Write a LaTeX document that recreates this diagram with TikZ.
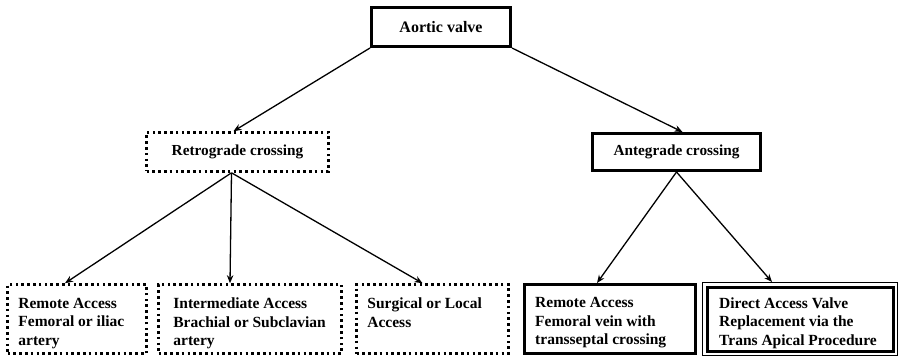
\documentclass[tikz,border=0pt]{standalone}
\usepackage{fontspec}
\setmainfont{Liberation Serif}
\usetikzlibrary{arrows.meta,calc}
\begin{document}
\begin{tikzpicture}[x=1pt,y=1pt,
  solidbox/.style={draw=black,line width=3pt,rectangle,inner sep=0pt,outer sep=1.5pt},
  dotbox/.style={draw=black,line width=2.6pt,dash pattern=on 2.6pt off 3.2pt,rectangle,inner sep=0pt,outer sep=1.3pt},
  thinbox/.style={draw=black,line width=1pt,rectangle,inner sep=0pt,outer sep=0.5pt},
  boxtext/.style={font=\bfseries\fontsize{15.5}{18.5}\selectfont,align=left,inner sep=0pt,anchor=north west},
  conn/.style={draw=black,line width=1.3pt,-{Stealth[length=8pt,width=6.5pt]}}
]
\useasboundingbox (0,0) rectangle (901,-358);
\fill[white] (0,0) rectangle (901,-358);

% top
\node[solidbox,minimum width=139pt,minimum height=39pt,font=\bfseries\fontsize{16}{19}\selectfont] (av) at (441,-27) {Aortic valve};

% second level
\node[dotbox,minimum width=182pt,minimum height=39pt,font=\bfseries\fontsize{15.3}{18}\selectfont] (ret) at (237.5,-152) {Retrograde crossing};
\node[solidbox,minimum width=168pt,minimum height=37pt,font=\bfseries\fontsize{15.3}{18}\selectfont] (ant) at (676.5,-152) {Antegrade crossing};

% bottom boxes
\node[dotbox,minimum width=139pt,minimum height=69pt] (b1) at (77,-319) {};
\node[dotbox,minimum width=183pt,minimum height=69pt] (b2) at (250,-319) {};
\node[dotbox,minimum width=152pt,minimum height=69pt] (b3) at (432.5,-319) {};
\node[solidbox,minimum width=171pt,minimum height=69pt] (b4) at (610,-319) {};
\node[thinbox,minimum width=195pt,minimum height=73pt] (b5) at (800,-319) {};
\node[solidbox,minimum width=186pt,minimum height=64pt] (b5i) at (800,-319) {};

\node[boxtext] (t1) at ($(b1.north west)+(12,-14.5)$) {Remote Access\\Femoral or iliac\\artery};
\node[boxtext] (t2) at ($(b2.north west)+(16,-14.5)$) {Intermediate Access\\Brachial or Subclavian\\artery};
\node[boxtext] (t3) at ($(b3.north west)+(12,-14.5)$) {Surgical or Local\\Access};
\node[boxtext] (t4) at ($(b4.north west)+(12,-14.5)$) {Remote Access\\Femoral vein with\\transseptal crossing};
\node[boxtext] (t5) at ($(b5.north west)+(17,-15.5)$) {Direct Access Valve\\Replacement via the\\Trans Apical Procedure};

% connectors
\draw[conn] (av.south west) -- ([xshift=-4pt]ret.north);
\draw[conn] (av.south east) -- ([xshift=6pt]ant.north);
\draw[conn] ([xshift=-6pt]ret.south) -- ([xshift=-12pt]b1.north);
\draw[conn] ([xshift=-6pt]ret.south) -- ([xshift=-20pt]b2.north);
\draw[conn] ([xshift=-6pt]ret.south) -- ([xshift=-10pt]b3.north);
\draw[conn] (ant.south) -- ([xshift=-13pt]b4.north);
\draw[conn] (ant.south) -- ([xshift=-28pt]b5.north);
\end{tikzpicture}
\end{document}
